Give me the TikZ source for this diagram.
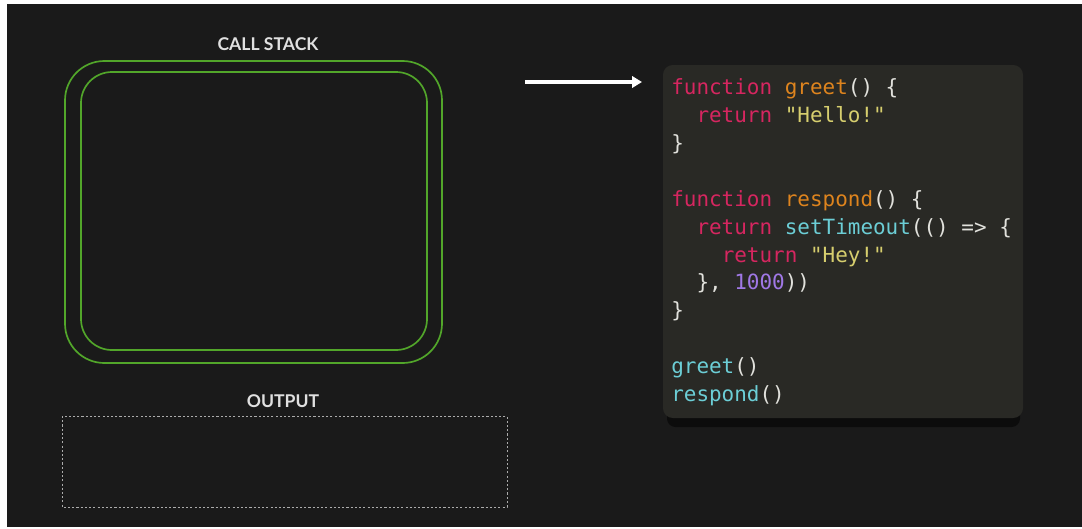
\documentclass[tikz,border=0pt]{standalone}
\usepackage{fontspec}
\setsansfont{Lato}
\setmonofont{DejaVu Sans Mono}
\usetikzlibrary{arrows.meta}
\definecolor{bgdark}{RGB}{26,26,26}
\definecolor{panel}{RGB}{41,41,37}
\definecolor{shadowdark}{RGB}{12,12,12}
\definecolor{stackgreen}{RGB}{82,166,42}
\definecolor{kwpink}{RGB}{214,38,96}
\definecolor{fnorange}{RGB}{222,132,30}
\definecolor{strylw}{RGB}{214,206,110}
\definecolor{callcyan}{RGB}{108,206,214}
\definecolor{numpurple}{RGB}{160,120,230}
\definecolor{punct}{RGB}{225,225,220}
\newcommand{\kwd}[1]{\textcolor{kwpink}{#1}}
\newcommand{\fnc}[1]{\textcolor{fnorange}{#1}}
\newcommand{\strg}[1]{\textcolor{strylw}{#1}}
\newcommand{\cll}[1]{\textcolor{callcyan}{#1}}
\newcommand{\numb}[1]{\textcolor{numpurple}{#1}}
\begin{document}
\begin{tikzpicture}[x=0.025cm,y=-0.025cm,
  heading/.style={text=black!12,font=\sffamily\bfseries\fontsize{12.5}{14}\selectfont},
  codeline/.style={anchor=base west,inner sep=0pt,text=punct,font=\ttfamily\fontsize{14.9}{18}\selectfont}]
\useasboundingbox (0,0) rectangle (1082,528);
\fill[white] (0,0) rectangle (1082,528);
\fill[bgdark] (7,4) rectangle (1082,527);
% call stack
\node[heading] (stacklabel) at (268,44) {CALL STACK};
\draw[stackgreen,line width=1.2pt,rounded corners=28] (65,61) rectangle (442,363);
\draw[stackgreen,line width=1.2pt,rounded corners=22] (81,72) rectangle (427,350);
% output
\node[heading] (outlabel) at (283,401) {OUTPUT};
\draw[gray!65,line width=0.6pt,dash pattern=on 1.5pt off 1.5pt] (62,416) rectangle (507,507);
% code
\fill[shadowdark,rounded corners=6] (667,80) rectangle (1020,427);
\fill[panel,rounded corners=7] (663,65) rectangle (1023,418);
\coordinate (arrowstart) at (525,82);
\coordinate (arrowend) at (642,82);
\draw[white,line width=2.2pt,-{Triangle[length=7pt,width=8pt]}] (arrowstart) -- (arrowend);
\node[codeline] (l1) at (671,94) {\kwd{function} \fnc{greet}() \{};
\node[codeline] (l2) at (671,122) {~~\kwd{return} \strg{"Hello!"}};
\node[codeline] (l3) at (671,150) {\}};
\node[codeline] (l4) at (671,206) {\kwd{function} \fnc{respond}() \{};
\node[codeline] (l5) at (671,234) {~~\kwd{return} \cll{setTimeout}(() => \{};
\node[codeline] (l6) at (671,262) {~~~~\kwd{return} \strg{"Hey!"}};
\node[codeline] (l7) at (671,289) {~~\}, \numb{1000}))};
\node[codeline] (l8) at (671,317) {\}};
\node[codeline] (l9) at (671,373) {\cll{greet}()};
\node[codeline] (l10) at (671,401) {\cll{respond}()};
\end{tikzpicture}
\end{document}
